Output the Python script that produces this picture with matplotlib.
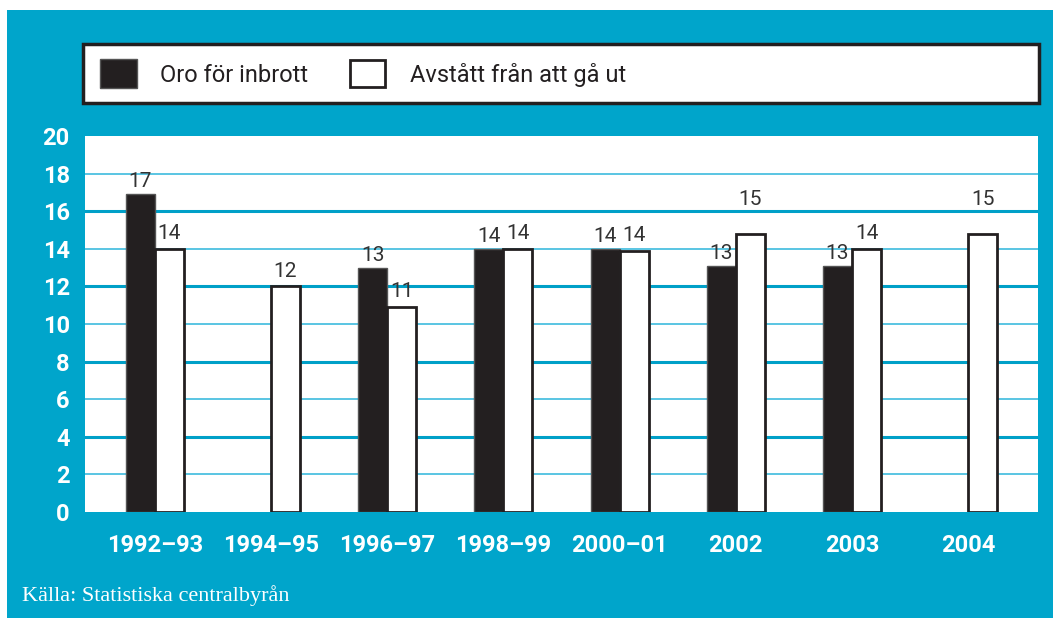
import numpy as np
import matplotlib.pyplot as plt
from matplotlib.patches import Rectangle

# data
periods = ['1992–93', '1994–95', '1996–97', '1998–99', '2000–01', '2002', '2003', '2004']
oro = [16.9, np.nan, 13.0, 14.0, 14.0, 13.1, 13.1, np.nan]
avstatt = [14.0, 12.0, 10.9, 14.0, 13.9, 14.8, 14.0, 14.8]
oro_labels = ['17', '', '13', '14', '14', '13', '13', '']
avstatt_labels = ['14', '12', '11', '14', '14', '15', '14', '15']
y_ticks = [0, 2, 4, 6, 8, 10, 12, 14, 16, 18, 20]

CYAN = '#00a5cb'
COND = ['Roboto', 'DejaVu Sans']

fig = plt.figure(figsize=(10.53, 6.18), dpi=100)
fig.patch.set_facecolor('white')
# cyan panel behind everything
fig.patches.append(Rectangle((7 / 1053, 0), 1, 1 - 10 / 618, transform=fig.transFigure,
                             facecolor=CYAN, edgecolor='none', zorder=-10))

ax = fig.add_axes([85 / 1053, 1 - 512 / 618, (1038 - 85) / 1053, (512 - 136) / 618])
ax.set_facecolor('white')
x = np.arange(len(periods))
w = 0.25

for t in y_ticks[1:-1]:
    if t % 4 == 0:
        ax.axhline(t, color='#00a0c8', lw=2.2, zorder=1)
    else:
        ax.axhline(t, color='#4cc0e0', lw=1.3, zorder=1)

ax.bar(x - w / 2, oro, w, color='#231f20', edgecolor='#555555', lw=1, zorder=3)
ax.bar(x + w / 2, avstatt, w, color='white', edgecolor='#231f20', lw=2, zorder=3)

for i in range(len(periods)):
    if oro_labels[i]:
        ax.text(x[i] - w / 2, oro[i] + 0.15, oro_labels[i], ha='center', va='bottom',
                fontsize=15, color='#333333', family=COND, zorder=4)
    off = 1.3 if avstatt_labels[i] == '15' else 0.3
    ax.text(x[i] + w / 2, avstatt[i] + off, avstatt_labels[i], ha='center', va='bottom',
            fontsize=15, color='#333333', family=COND, zorder=4)

ax.set_xlim(-0.6, 7.6)
ax.set_ylim(0, 20)
ax.set_yticks(y_ticks)
ax.set_yticklabels([str(t) for t in y_ticks], fontsize=17, fontweight='bold',
                   color='white', family=COND)
ax.set_xticks(x)
ax.set_xticklabels(periods, fontsize=17, fontweight='bold', color='white', family=COND)
ax.tick_params(length=0)
ax.tick_params(axis='y', pad=11)
ax.tick_params(axis='x', pad=16)
for s in ax.spines.values():
    s.set_visible(False)

# legend box
fig.patches.append(Rectangle((83 / 1053, 1 - 103 / 618), (1039 - 83) / 1053, 59 / 618,
                             transform=fig.transFigure, facecolor='white',
                             edgecolor='#231f20', lw=2.5, zorder=5))
fig.patches.append(Rectangle((100 / 1053, 1 - 88 / 618), 37 / 1053, 29 / 618,
                             transform=fig.transFigure, facecolor='#231f20',
                             edgecolor='#555555', lw=1, zorder=6))
fig.patches.append(Rectangle((350 / 1053, 1 - 87 / 618), 35 / 1053, 27 / 618,
                             transform=fig.transFigure, facecolor='white',
                             edgecolor='#231f20', lw=2, zorder=6))
fig.text(160 / 1053, 1 - 75 / 618, 'Oro för inbrott', fontsize=17, va='center',
         color='#231f20', family=COND, zorder=7)
fig.text(410 / 1053, 1 - 75 / 618, 'Avstått från att gå ut', fontsize=17, va='center',
         color='#231f20', family=COND, zorder=7)

fig.text(22 / 1053, 1 - 596 / 618, 'Källa: Statistiska centralbyrån', fontsize=16,
         va='center', color='white', family='Liberation Serif')

fig.savefig('out.png', dpi=100)
